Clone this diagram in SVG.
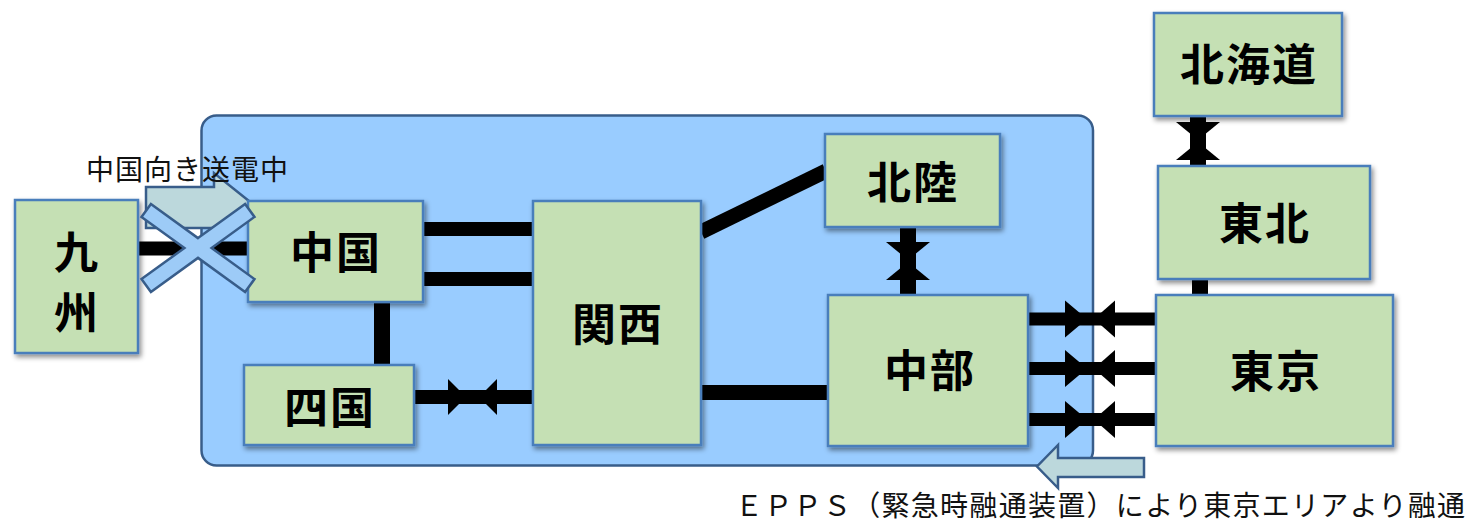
<svg xmlns="http://www.w3.org/2000/svg" width="1468" height="523" viewBox="0 0 1468 523">
<defs>
<filter id="sh" x="-15%" y="-15%" width="135%" height="140%">
<feDropShadow dx="2" dy="3" stdDeviation="2.5" flood-color="#000" flood-opacity="0.45"/>
</filter>
<style>
.node{fill:#C5E0B4;stroke:#4A7EBB;stroke-width:2.5;filter:url(#sh)}
.lbl{font-family:"Noto Sans CJK JP","Noto Sans CJK SC",sans-serif;font-weight:bold;font-size:44px;fill:#000;text-anchor:middle;letter-spacing:2px}
.note{font-family:"Noto Sans CJK JP","Noto Sans CJK SC",sans-serif;font-weight:normal;font-size:28px;fill:#111}
.ln{stroke:#000;fill:none}
.bt{fill:#000}
.blk{fill:#BCD8DC;stroke:#385D8A;stroke-width:2.5}
</style>
</defs>
<rect id="area" x="201.5" y="115.5" width="891.5" height="350" rx="15" fill="#99CCFF" stroke="#385D8A" stroke-width="2.5"/>
<polygon id="arrow-chugoku" class="blk" points="146,187 214,187 214,173 257,207.5 214,242 214,228 146,228"/>
<g id="connectors">
<line class="ln" x1="138" y1="248.5" x2="248" y2="248.5" stroke-width="14"/>
<line class="ln" x1="423" y1="229" x2="533" y2="229" stroke-width="14"/>
<line class="ln" x1="423" y1="279" x2="533" y2="279" stroke-width="14"/>
<line class="ln" x1="382" y1="302" x2="382" y2="365" stroke-width="16"/>
<line class="ln" x1="413" y1="397" x2="533" y2="397" stroke-width="14"/>
<polygon class="bt" points="448,379 466,397 448,415"/>
<polygon class="bt" points="497,379 479,397 497,415"/>
<line class="ln" x1="701" y1="232" x2="826" y2="171" stroke-width="15"/>
<line class="ln" x1="701" y1="392.5" x2="828" y2="392.5" stroke-width="15"/>
<line class="ln" x1="908" y1="227" x2="908" y2="295" stroke-width="16"/>
<polygon class="bt" points="886,242 908,260 930,242"/>
<polygon class="bt" points="886,280 908,262 930,280"/>
<line class="ln" x1="1028" y1="319" x2="1156" y2="319" stroke-width="13"/>
<line class="ln" x1="1028" y1="368.5" x2="1156" y2="368.5" stroke-width="13"/>
<line class="ln" x1="1028" y1="419.5" x2="1156" y2="419.5" stroke-width="13"/>
<polygon class="bt" points="1065,300.5 1087,319 1065,337.5"/>
<polygon class="bt" points="1115,300.5 1094,319 1115,337.5"/>
<polygon class="bt" points="1065,350 1087,368.5 1065,387"/>
<polygon class="bt" points="1115,350 1094,368.5 1115,387"/>
<polygon class="bt" points="1065,401 1087,419.5 1065,438"/>
<polygon class="bt" points="1115,401 1094,419.5 1115,438"/>
<line class="ln" x1="1198" y1="116" x2="1198" y2="166" stroke-width="16"/>
<polygon class="bt" points="1176,122 1198,140 1220,122"/>
<polygon class="bt" points="1176,160 1198,142 1220,160"/>
<line class="ln" x1="1200" y1="279" x2="1200" y2="295" stroke-width="16"/>
</g>
<g id="kyushu"><rect class="node" x="15" y="200" width="123" height="153"/><text class="lbl" x="77"><tspan x="77" y="269">九</tspan><tspan x="77" y="329">州</tspan></text></g>
<g id="chugoku"><rect class="node" x="248" y="201" width="175" height="101"/><text class="lbl" x="336" y="269">中国</text></g>
<g id="shikoku"><rect class="node" x="244" y="365" width="170" height="80"/><text class="lbl" x="330" y="424">四国</text></g>
<g id="kansai"><rect class="node" x="533" y="201" width="168" height="244"/><text class="lbl" x="618" y="341">関西</text></g>
<g id="hokuriku"><rect class="node" x="825" y="134" width="175" height="93"/><text class="lbl" x="913" y="199">北陸</text></g>
<g id="chubu"><rect class="node" x="828" y="295" width="200" height="151"/><text class="lbl" x="930" y="387">中部</text></g>
<g id="tokyo"><rect class="node" x="1156" y="295" width="237" height="151"/><text class="lbl" x="1276" y="388">東京</text></g>
<g id="tohoku"><rect class="node" x="1158" y="166" width="212" height="113"/><text class="lbl" x="1265" y="240">東北</text></g>
<g id="hokkaido"><rect class="node" x="1154" y="13" width="188" height="103"/><text class="lbl" x="1249" y="81">北海道</text></g>
<polygon id="cross" points="198,238.1 245.1,203.9 254.5,216.9 211.6,248 254.5,279.1 245.1,292.1 198,257.9 150.9,292.1 141.5,279.1 184.4,248 141.5,216.9 150.9,203.9" fill="#9DCBF7" stroke="#385D8A" stroke-width="2.5"/>
<polygon id="arrow-epps" class="blk" points="1144,458 1058,458 1058,445 1037,466.5 1058,488 1058,477 1144,477"/>
<text class="note" x="86" y="180" letter-spacing="1">中国向き送電中</text>
<text class="note" x="735" y="516" font-size="29" textLength="730" lengthAdjust="spacing">ＥＰＰＳ（緊急時融通装置）により東京エリアより融通</text>
</svg>
